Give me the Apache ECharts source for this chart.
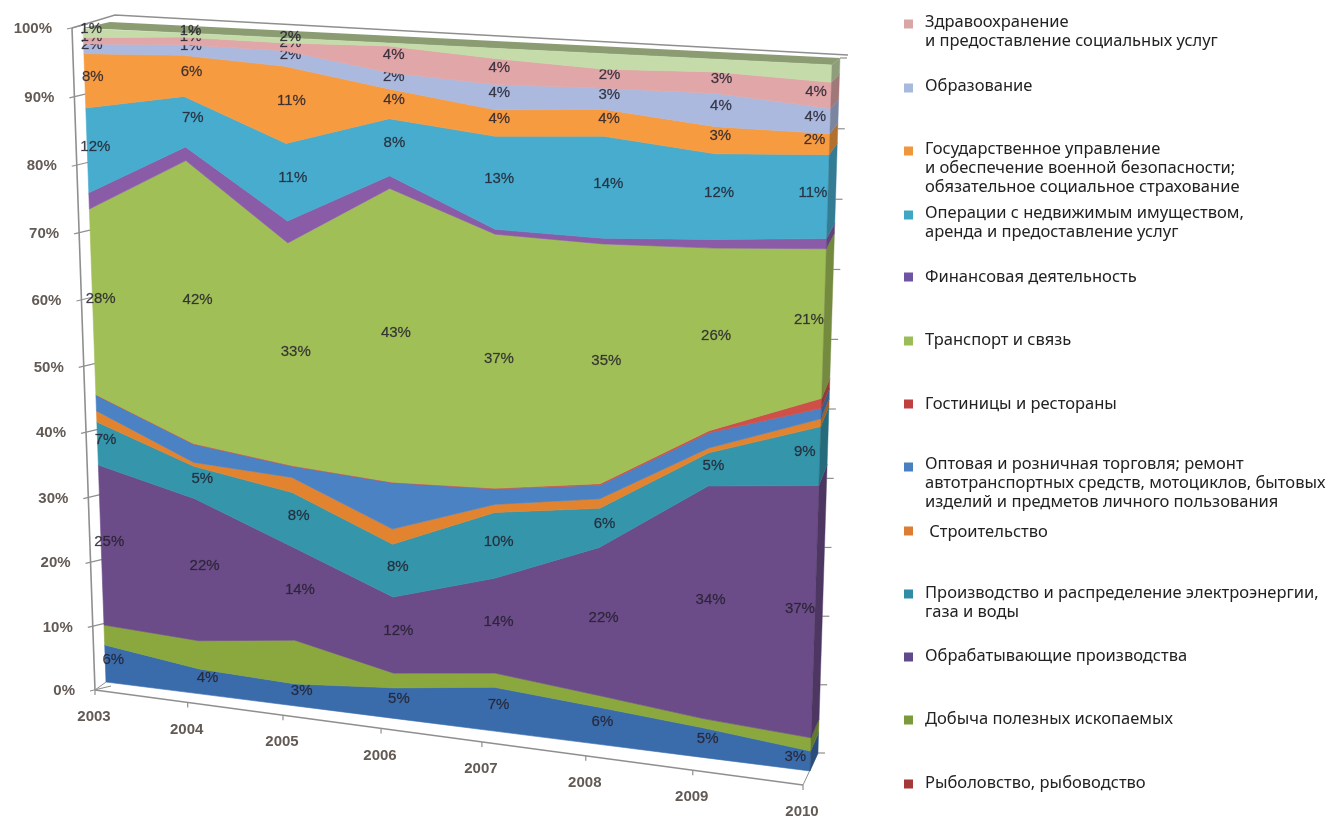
<!DOCTYPE html>
<html>
<head>
<meta charset="utf-8">
<style>html,body{margin:0;padding:0;background:#fff}#c{width:1331px;height:819px}</style>
<script src="https://cdn.jsdelivr.net/npm/echarts@6/dist/echarts.min.js"></script>
</head>
<body>
<div id="c"></div>
<script>
// ---------- data (bottom to top of the stack), percent ----------
const years = ['2003','2004','2005','2006','2007','2008','2009','2010'];
const yTicks = [0,10,20,30,40,50,60,70,80,90,100];
const agriculture = [6,4,3.5,4.8,6.8,5.7,4.5,3];
const fishing     = [0,0,0,0,0,0,0,0];
const mining      = [3.2,4.5,6.9,2.3,2.2,1.8,1.4,2];
const manufacturing=[25.3,22.3,14.5,11.8,14.5,22.3,34.5,37];
const energy      = [6.7,5,8.4,8.1,9.9,5.8,4.8,8.4];
const construction= [1.7,0.6,2.3,2.3,1.2,1.4,0.7,1.1];
const trade       = [2.45,2.8,1.7,7,2.3,2,2.2,1.5];
const hotels      = [0.05,0.1,0.1,0.1,0.1,0.2,0.3,1.4];
const transport   = [28.1,42.3,33.2,43.1,37,34.5,25.8,20.8];
const finance     = [2.4,2,3.2,1.8,0.7,0.8,1.2,1.4];
const realEstate  = [12.5,7.3,11.2,8.1,13.1,14.2,11.8,11.4];
const government  = [7.9,5.9,11,4.2,3.7,3.7,3.7,2.8];
const education   = [1.4,1.5,2.2,2.3,3.5,2.9,4.5,3.4];
const health      = [0.9,1.1,1.1,3.7,3.6,2.6,2.9,3.5];
const other       = [1.3,0.6,0.7,0.4,1.4,2.1,1.7,2.3];
// printed data labels
const agricultureLabels  = ['6%','4%','3%','5%','7%','6%','5%','3%'];
const manufacturingLabels= ['25%','22%','14%','12%','14%','22%','34%','37%'];
const energyLabels       = ['7%','5%','8%','8%','10%','6%','5%','9%'];
const transportLabels    = ['28%','42%','33%','43%','37%','35%','26%','21%'];
const realEstateLabels   = ['12%','7%','11%','8%','13%','14%','12%','11%'];
const governmentLabels   = ['8%','6%','11%','4%','4%','4%','3%','2%'];
const educationLabels    = ['2%','1%','2%','2%','4%','3%','4%','4%'];
const healthLabels       = ['1%','1%','2%','4%','4%','2%','3%','4%'];
const otherLabels        = ['1%','1%','2%','','','','',''];

// ---------- styles / layout ----------
const bands = [
 {name:'Сельское хозяйство', values:agriculture, labels:agricultureLabels, color:'#3a6cab'},
 {name:'Рыболовство, рыбоводство', values:fishing, color:'#953735', mark:'#a5393a'},
 {name:'Добыча полезных ископаемых', values:mining, color:'#8aa83e', mark:'#7a9a3c'},
 {name:'Обрабатывающие производства', values:manufacturing, labels:manufacturingLabels, color:'#6b4c88', mark:'#5f4a8c'},
 {name:'Производство и распределение электроэнергии,\nгаза и воды', values:energy, labels:energyLabels, color:'#3495ab', mark:'#2f8ea6'},
 {name:' Строительство', values:construction, color:'#e2842f', mark:'#dd7c33'},
 {name:'Оптовая и розничная торговля; ремонт\nавтотранспортных средств, мотоциклов, бытовых\nизделий и предметов личного пользования', values:trade, color:'#4b82c4', mark:'#4a80bf'},
 {name:'Гостиницы и рестораны', values:hotels, color:'#cf5049', mark:'#c0403f'},
 {name:'Транспорт и связь', values:transport, labels:transportLabels, color:'#a1bf57', mark:'#9cbc58'},
 {name:'Финансовая деятельность', values:finance, color:'#8a5ca8', mark:'#6f54a4'},
 {name:'Операции с недвижимым имуществом,\nаренда и предоставление услуг', values:realEstate, labels:realEstateLabels, color:'#47accd', mark:'#3fa7c4'},
 {name:'Государственное управление\nи обеспечение военной безопасности;\nобязательное социальное страхование', values:government, labels:governmentLabels, color:'#f79b41', mark:'#f0963c'},
 {name:'Образование', values:education, labels:educationLabels, color:'#abb9de', mark:'#a7b9dc'},
 {name:'Здравоохранение\nи предоставление социальных услуг', values:health, labels:healthLabels, color:'#e0a6a8', mark:'#d9a6a6'},
 {name:'Прочие', values:other, labels:otherLabels, color:'#c5dcaa'}
];
// legend rows: first-line centre y and marker centre y
const legendRows = [
 ['Здравоохранение\nи предоставление социальных услуг',22,24],
 ['Образование',86,88],
 ['Государственное управление\nи обеспечение военной безопасности;\nобязательное социальное страхование',149,151],
 ['Операции с недвижимым имуществом,\nаренда и предоставление услуг',213,215],
 ['Финансовая деятельность',277,277],
 ['Транспорт и связь',340,341],
 ['Гостиницы и рестораны',404,404],
 ['Оптовая и розничная торговля; ремонт\nавтотранспортных средств, мотоциклов, бытовых\nизделий и предметов личного пользования',464,467],
 [' Строительство',532,531],
 ['Производство и распределение электроэнергии,\nгаза и воды',593,594],
 ['Обрабатывающие производства',656,657],
 ['Добыча полезных ископаемых',719,720],
 ['Рыболовство, рыбоводство',783,784]
];
const labelDx = [8,8,6,5,4,5,5,-15];
const labelDy = -4;
const front = {bl:[106,682], br:[810,771], tr:[832,65], tl:[83,28]};
const backEdge = {b:[818,753], t:[840,58]};
const axisLeft = {b:[95,690], t:[72,28], h:-0.044};
const axisBottom = {a:[95,690], b:[803,785], g:-0.0962};
const TICK='#8f8f8f', AXISTEXT='#625a55';
const FONT_NUM='"Liberation Sans",Arial,sans-serif', FONT_LEG='"Noto Sans",sans-serif';

function homography(q){
 const [x0,y0]=q.bl,[x1,y1]=q.br,[x2,y2]=q.tr,[x3,y3]=q.tl;
 const sx=x0-x1+x2-x3, sy=y0-y1+y2-y3, dx1=x1-x2, dx2=x3-x2, dy1=y1-y2, dy2=y3-y2;
 const det=dx1*dy2-dx2*dy1, g=(sx*dy2-dx2*sy)/det, h=(dx1*sy-sx*dy1)/det;
 const a=x1-x0+g*x1, b=x3-x0+h*x3, d=y1-y0+g*y1, e=y3-y0+h*y3;
 return (u,v)=>{const w=g*u+h*v+1; return [(a*u+b*v+x0)/w,(d*u+e*v+y0)/w];};
}
const P = homography(front);
function edge(p0,p1,k,t){const w=1+k*t;return [(p0[0]+(p1[0]*(1+k)-p0[0])*t)/w,(p0[1]+(p1[1]*(1+k)-p0[1])*t)/w];}
const backPt = v => edge(backEdge.b,backEdge.t,-0.02,v);
function shade(hex,f){const n=parseInt(hex.slice(1),16);return 'rgb('+[n>>16,(n>>8)&255,n&255].map(c=>Math.round(c*f)).join(',')+')';}

// cumulative stack
const cum=[]; (function(){let base=years.map(()=>0);
 bands.forEach(b=>{const lo=base.slice();const hi=base.map((x,i)=>x+b.values[i]);cum.push({lo,hi});base=hi;});})();

function uv(api,cs,i,val){const p=api.coord([i,val]);return [(p[0]-cs.x)/cs.width,(cs.y+cs.height-p[1])/cs.height];}

const bandSeries = bands.map((b,k)=>({
 type:'custom', name:b.name, coordinateSystem:'cartesian2d', silent:true, z:3+k*0.01,
 itemStyle:{color:b.mark||b.color}, clip:false, animation:false,
 data:years.map((y,i)=>[i,cum[k].hi[i]]), encode:{x:0,y:1},
 renderItem:function(params,api){
  const cs=params.coordSys, i=params.dataIndex, ch=[];
  const isEmpty=b.values.every(x=>x===0);
  if(i===0 && !isEmpty){
   const pts=[];
   years.forEach((_,j)=>{const t=uv(api,cs,j,cum[k].hi[j]);pts.push(P(t[0],t[1]));});
   for(let j=years.length-1;j>=0;j--){const t=uv(api,cs,j,cum[k].lo[j]);pts.push(P(t[0],t[1]));}
   ch.push({type:'polygon',shape:{points:pts},style:{fill:b.color,stroke:b.color,lineWidth:0.6}});
  }
  if(i===years.length-1 && !isEmpty){
   const vh=uv(api,cs,i,cum[k].hi[i])[1], vl=uv(api,cs,i,cum[k].lo[i])[1];
   const c=shade(b.color,0.72);
   ch.push({type:'polygon',shape:{points:[P(1,vh),backPt(vh),backPt(vl),P(1,vl)]},style:{fill:c,stroke:c,lineWidth:0.4}});
  }
  if(b.labels && b.labels[i]){
   const mid=(cum[k].hi[i]+cum[k].lo[i])/2, t=uv(api,cs,i,mid), p=P(t[0],t[1]);
   ch.push({type:'text',z2:50,style:{x:p[0]+labelDx[i],y:p[1]+labelDy,text:b.labels[i],align:'center',verticalAlign:'middle',
     fill:'rgba(35,32,45,0.85)',font:'15px '+FONT_NUM,stroke:'rgba(35,32,45,0.45)',lineWidth:0.4}});
  }
  return {type:'group',children:ch};
 }
}));

// frame: axes, ticks, top face, tick labels
const frameSeries = {
 type:'custom', name:'Оси', coordinateSystem:'cartesian2d', silent:true, z:2, clip:false, animation:false,
 data:[[0,0]], encode:{x:0,y:1},
 renderItem:function(params,api){
  const cs=params.coordSys, ch=[];
  const line=(a,b,w)=>({type:'line',shape:{x1:a[0],y1:a[1],x2:b[0],y2:b[1]},style:{stroke:TICK,lineWidth:w||1.3}});
  // top face
  ch.push({type:'polygon',shape:{points:[front.tl,[110,22],backEdge.t,front.tr]},style:{fill:'#8b9c72'}});
  // frame lines
  ch.push(line(axisLeft.t,axisLeft.b,1.6));
  ch.push(line(axisBottom.a,axisBottom.b,1.4));
  ch.push(line(axisBottom.a,front.bl,1));
  ch.push(line(axisBottom.b,backEdge.b,1));
  ch.push({type:'polyline',shape:{points:[axisLeft.t,[115,15],[848,55]]},style:{stroke:TICK,lineWidth:1.4,fill:null}});
  // y ticks
  yTicks.forEach(val=>{
   const v=uv(api,cs,0,val)[1], p=edge(axisLeft.b,axisLeft.t,axisLeft.h,v);
   ch.push(line([p[0]-5,p[1]+1],[p[0]+16,p[1]-4],1.2));
   ch.push({type:'text',style:{x:p[0]-20,y:p[1]+1,text:val+'%',align:'right',verticalAlign:'middle',fill:AXISTEXT,font:'bold 15px '+FONT_NUM}});
   const r=backPt(v);
   ch.push(line([r[0],r[1]],[r[0]+7,r[1]],1.2));
  });
  // x ticks
  years.forEach((y,i)=>{
   const u=uv(api,cs,i,0)[0], p=edge(axisBottom.a,axisBottom.b,axisBottom.g,u);
   ch.push(line(p,[p[0],p[1]+5],1.2));
   ch.push({type:'text',style:{x:p[0]-1,y:p[1]+27,text:y,align:'center',verticalAlign:'middle',fill:AXISTEXT,font:'bold 15px '+FONT_NUM}});
  });
  return {type:'group',children:ch};
 }
};

const LH=19;
const legends = legendRows.map(r=>{
 const lines=r[0].split('\n').length, H=lines*LH, o=r[2]-r[1]+5;
 const icon='path://M0 0L0 0M0 '+o+'H9V'+(o+9)+'H0ZM16 '+H+'L16 '+H;
 const b=bands.find(x=>x.name===r[0]);
 return {show:true,left:904,top:r[1]-LH/2,padding:0,orient:'vertical',selectedMode:false,itemWidth:16,itemHeight:H,
  data:[{name:r[0],icon:icon,itemStyle:{color:b.mark,borderWidth:0},lineStyle:{width:0}}],
  textStyle:{fontFamily:FONT_LEG,fontSize:16.5,lineHeight:LH,color:'#222'}};
});

const chart=echarts.init(document.getElementById('c'),null,{renderer:'canvas'});
chart.setOption({
 animation:false, backgroundColor:'#fff', tooltip:{show:false},
 legend:legends,
 grid:{left:100,top:100,width:700,height:600},
 xAxis:{type:'category',data:years,boundaryGap:false,show:false},
 yAxis:{type:'value',min:0,max:100,interval:10,show:false},
 series:[frameSeries].concat(bandSeries)
});
</script>
</body>
</html>
